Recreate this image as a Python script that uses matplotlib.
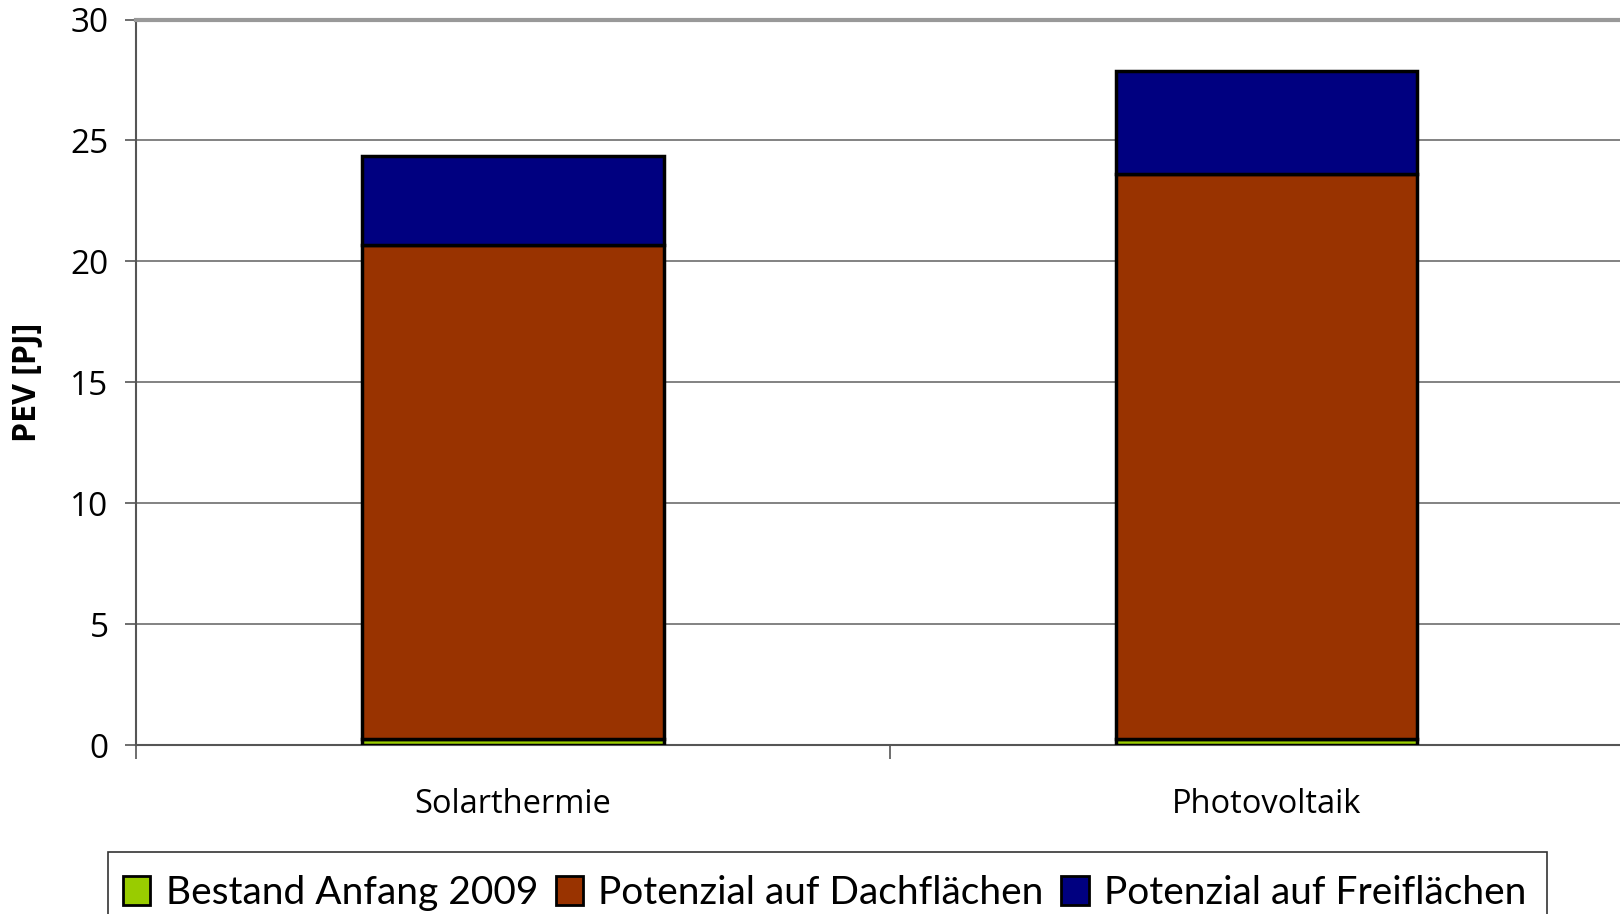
import matplotlib
matplotlib.use('Agg')
import matplotlib.pyplot as plt
from matplotlib.patches import Patch, Rectangle

plt.rcParams['font.family'] = ['Open Sans', 'DejaVu Sans']

# Daten (PEV in PJ)
kategorien = ['Solarthermie', 'Photovoltaik']
bestand_2009 = [0.25, 0.25]
dachflaechen = [20.43, 23.38]
freiflaechen = [3.68, 4.23]
serien = ['Bestand Anfang 2009', 'Potenzial auf Dachflächen', 'Potenzial auf Freiflächen']
farben = ['#99CC00', '#993300', '#000080']

fig = plt.figure(figsize=(16.2, 9.14), dpi=100)
ax = fig.add_axes([0.0842, 0.1849, 0.930, 0.7937])

x = list(range(len(kategorien)))
breite = 0.4
unten = [0.0] * len(x)
for werte, farbe in zip([bestand_2009, dachflaechen, freiflaechen], farben):
    ax.bar(x, werte, breite, bottom=unten, color=farbe, edgecolor='black', linewidth=2.5, zorder=3)
    unten = [u + w for u, w in zip(unten, werte)]

ax.set_xlim(-0.5, len(x) - 0.5)
ax.set_ylim(0, 30)
ax.set_yticks(range(0, 31, 5))
ax.yaxis.grid(True, color='#606060', linewidth=1.1, zorder=0)

# Tickstriche an den Kategoriegrenzen, Beschriftung mittig
ax.set_xticks([i - 0.5 for i in range(len(x) + 1)])
ax.set_xticklabels([])
ax.set_xticks(x, minor=True)
ax.set_xticklabels(kategorien, minor=True, fontsize=23.5)
ax.tick_params(axis='x', which='minor', length=0, pad=31)
ax.tick_params(axis='x', which='major', length=10, width=1.2, color='#555555', direction='out')
ax.tick_params(axis='y', length=8, width=1.2, color='#555555', labelsize=24, pad=12)

for s in ['left', 'bottom']:
    ax.spines[s].set_color('#555555')
    ax.spines[s].set_linewidth(1.5)
ax.spines['top'].set_color('#999999')
ax.spines['top'].set_linewidth(3)
ax.spines['right'].set_visible(False)

ax.set_ylabel('PEV [PJ]', fontsize=23, fontweight='bold')
ax.yaxis.set_label_coords(-0.062, 0.5)

# Legendenrahmen (unten abgeschnitten wie im Original)
fig.patches.append(Rectangle((108.5 / 1620, -0.1), (1547 - 108.5) / 1620, 0.1 + 1 - 852 / 914,
                             transform=fig.transFigure, facecolor='white', edgecolor='#333333',
                             linewidth=1.2, zorder=1))
handles = [Patch(facecolor=f, edgecolor='black', linewidth=2) for f in farben]
fig.legend(handles, serien, loc='upper left', bbox_to_anchor=(123 / 1620, 1 - 875 / 914),
           ncol=3, frameon=False, prop={'family': ['Lato', 'DejaVu Sans'], 'size': 28},
           handlelength=0.7, handleheight=0.75, handletextpad=0.4, columnspacing=0.45,
           borderpad=0, borderaxespad=0)

fig.savefig('out.png', dpi=100)
